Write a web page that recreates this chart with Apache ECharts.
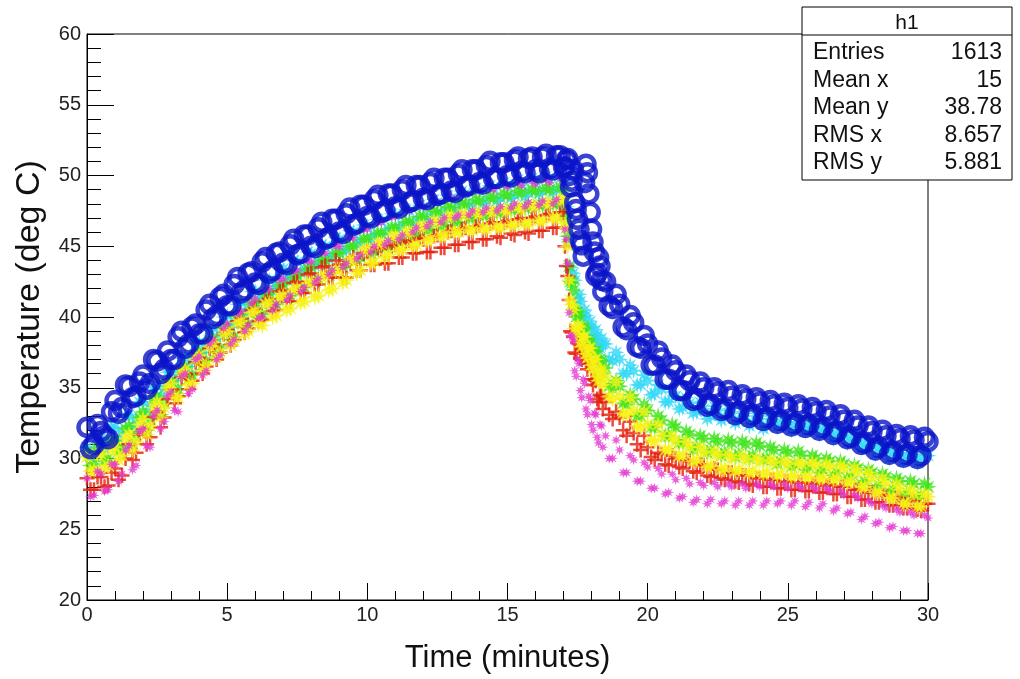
<!DOCTYPE html>
<html>
<head>
<meta charset="utf-8">
<title>h1</title>
<script src="https://cdn.jsdelivr.net/npm/echarts@6/dist/echarts.min.js"></script>
<style>
  html, body { margin: 0; padding: 0; background: #fff; }
  #chart { width: 1020px; height: 679px; }
</style>
</head>
<body>
<div id="chart"></div>
<script>
// time samples (minutes), first pass of readings
const times = [
  0, 0.25, 0.5, 0.75, 1, 1.25, 1.5, 1.75, 2, 2.25, 2.5, 2.75,
  3, 3.25, 3.5, 3.75, 4, 4.25, 4.5, 4.75, 5, 5.25, 5.5, 5.75,
  6, 6.25, 6.5, 6.75, 7, 7.25, 7.5, 7.75, 8, 8.25, 8.5, 8.75,
  9, 9.25, 9.5, 9.75, 10, 10.25, 10.5, 10.75, 11, 11.25, 11.5, 11.75,
  12, 12.25, 12.5, 12.75, 13, 13.25, 13.5, 13.75, 14, 14.25, 14.5, 14.75,
  15, 15.25, 15.5, 15.75, 16, 16.25, 16.5, 16.75, 17,
  17.1, 17.2, 17.3, 17.4, 17.5, 17.6, 17.7, 17.8, 17.9, 18, 18.1, 18.2, 18.3, 18.4,
  18.5, 18.75, 19, 19.25, 19.5, 19.75, 20, 20.25, 20.5, 20.75, 21, 21.25,
  21.5, 21.75, 22, 22.25, 22.5, 22.75, 23, 23.25, 23.5, 23.75, 24, 24.25,
  24.5, 24.75, 25, 25.25, 25.5, 25.75, 26, 26.25, 26.5, 26.75, 27, 27.25,
  27.5, 27.75, 28, 28.25, 28.5, 28.75, 29, 29.25, 29.5, 29.75, 30
];
// time samples (minutes), second pass of readings
const times2 = [
  0.125, 0.375, 0.625, 0.875, 1.125, 1.375, 1.625, 1.875, 2.125, 2.375, 2.625, 2.875,
  3.125, 3.375, 3.625, 3.875, 4.125, 4.375, 4.625, 4.875, 5.125, 5.375, 5.625, 5.875,
  6.125, 6.375, 6.625, 6.875, 7.125, 7.375, 7.625, 7.875, 8.125, 8.375, 8.625, 8.875,
  9.125, 9.375, 9.625, 9.875, 10.125, 10.375, 10.625, 10.875, 11.125, 11.375, 11.625, 11.875,
  12.125, 12.375, 12.625, 12.875, 13.125, 13.375, 13.625, 13.875, 14.125, 14.375, 14.625, 14.875,
  15.125, 15.375, 15.625, 15.875, 16.125, 16.375, 16.625, 16.875,
  17.05, 17.15, 17.25, 17.35, 17.45, 17.55, 17.65, 17.75, 17.85, 17.95, 18.05, 18.15, 18.25, 18.35,
  18.625, 18.875, 19.125, 19.375, 19.625, 19.875, 20.125, 20.375, 20.625, 20.875, 21.125, 21.375,
  21.625, 21.875, 22.125, 22.375, 22.625, 22.875, 23.125, 23.375, 23.625, 23.875, 24.125, 24.375,
  24.625, 24.875, 25.125, 25.375, 25.625, 25.875, 26.125, 26.375, 26.625, 26.875, 27.125, 27.375,
  27.625, 27.875, 28.125, 28.375, 28.625, 28.875, 29.125, 29.375, 29.625, 29.875
];

// temperatures (deg C) per sensor, first pass
const tempBlue = [
  32.2, 31.0, 31.9, 31.4, 34.1, 33.6, 35.1, 34.4, 35.9, 35.3, 36.9, 36.3,
  37.0, 38.6, 37.8, 39.3, 38.8, 40.5, 39.9, 41.4, 40.8, 42.3, 41.7, 43.1,
  42.4, 43.9, 43.1, 44.5, 43.8, 45.1, 44.4, 45.8, 45.0, 46.3, 45.5, 46.9,
  46.0, 47.3, 46.5, 47.9, 47.1, 48.3, 47.4, 48.7, 47.8, 49.0, 48.1, 49.3,
  48.4, 49.5, 48.6, 49.8, 48.9, 50.1, 49.2, 50.4, 49.5, 50.7, 49.8, 50.9,
  50.0, 51.1, 50.3, 51.2, 50.4, 51.3, 50.5, 51.4, 50.6,
  51.1, 50.0, 49.6, 48.1, 46.9, 45.4, 44.3, 50.8, 48.7, 46.2, 44.6, 43.1, 43.6, 41.8,
  42.5, 40.6, 40.9, 39.1, 39.6, 37.8, 38.1, 36.6, 37.1, 35.6, 36.2, 34.8,
  35.5, 34.2, 35.0, 33.8, 34.7, 33.5, 34.4, 33.3, 34.2, 33.1, 34.0, 32.9,
  33.8, 32.7, 33.6, 32.5, 33.5, 32.4, 33.3, 32.2, 33.0, 31.9, 32.7, 31.5,
  32.3, 31.1, 31.9, 30.8, 31.6, 30.5, 31.4, 30.3, 31.3, 30.2, 31.2
];
const tempCyan = [
  30.8, 30.4, 31.4, 31.2, 32.2, 31.9, 33.1, 32.8, 34.0, 33.8, 35.1, 34.9,
  36.2, 35.9, 37.2, 36.9, 38.2, 37.9, 39.2, 38.8, 40.1, 39.7, 41.0, 40.6,
  41.8, 41.4, 42.6, 42.2, 43.4, 42.9, 43.9, 43.4, 44.5, 43.9, 45.0, 44.4,
  45.5, 44.8, 46.0, 45.4, 46.4, 45.8, 46.8, 46.2, 47.2, 46.5, 47.5, 46.8,
  47.8, 47.1, 48.1, 47.5, 48.4, 47.7, 48.7, 48.0, 48.9, 48.2, 49.1, 48.4,
  49.3, 48.6, 49.4, 48.8, 49.6, 48.9, 49.7, 49.0, 49.6,
  47.8, 45.3, 42.7, 42.6, 41.2, 41.1, 40.0, 40.1, 39.2, 39.3, 38.5, 38.7, 37.8, 38.1,
  38.1, 36.9, 37.0, 36.0, 36.2, 35.2, 35.5, 34.6, 34.9, 34.0, 34.4, 33.6,
  33.9, 33.3, 33.5, 33.0, 33.4, 32.9, 33.2, 32.7, 33.0, 32.5, 32.8, 32.3,
  32.8, 32.5, 32.6, 32.4, 32.5, 32.2, 32.3, 32.0, 32.0, 31.7, 31.7, 31.4,
  31.3, 31.0, 30.9, 30.7, 30.6, 30.4, 30.4, 30.2, 30.3, 30.1, 30.2
];
const tempGreen = [
  30.5, 29.6, 30.6, 30.0, 31.3, 30.8, 32.3, 31.7, 33.3, 32.8, 34.4, 33.9,
  35.5, 34.9, 36.5, 35.9, 37.5, 36.9, 38.4, 37.8, 39.3, 38.6, 40.2, 39.5,
  41.0, 40.2, 41.7, 40.9, 42.3, 41.5, 42.9, 42.1, 43.5, 42.7, 44.0, 43.2,
  44.5, 43.7, 45.0, 44.2, 45.5, 44.6, 45.9, 45.0, 46.3, 45.4, 46.7, 45.8,
  47.1, 46.2, 47.4, 46.5, 47.7, 46.7, 48.0, 47.0, 48.2, 47.2, 48.4, 47.4,
  48.6, 47.6, 48.8, 47.8, 48.9, 47.9, 49.0, 48.0, 48.9,
  46.8, 43.6, 42.4, 40.6, 40.4, 39.0, 39.3, 38.1, 38.4, 37.1, 37.6, 36.6, 37.0, 36.0,
  36.4, 34.9, 35.1, 33.8, 34.2, 33.0, 33.4, 32.2, 32.7, 31.6, 32.2, 31.1,
  31.7, 30.8, 31.4, 30.6, 31.2, 30.4, 31.1, 30.3, 31.0, 30.2, 30.9, 30.0,
  30.6, 29.8, 30.4, 29.6, 30.2, 29.4, 30.0, 29.2, 29.8, 29.0, 29.6, 28.7,
  29.3, 28.4, 29.0, 28.1, 28.7, 27.8, 28.4, 27.6, 28.2, 27.4, 28.0
];
const tempYellow = [
  30.1, 29.2, 30.3, 29.5, 30.8, 30.2, 31.7, 31.2, 32.8, 32.3, 34.0, 33.6,
  35.3, 34.3, 36.3, 35.3, 37.3, 36.6, 38.2, 37.5, 39.0, 38.3, 39.7, 39.0,
  40.4, 39.4, 41.0, 40.1, 41.5, 40.6, 42.0, 41.1, 42.4, 41.5, 42.9, 42.0,
  43.3, 42.6, 44.0, 43.3, 44.8, 43.9, 45.2, 44.4, 45.7, 44.8, 46.0, 45.1,
  46.4, 45.5, 46.7, 45.8, 47.1, 46.0, 47.2, 46.1, 47.3, 46.2, 47.4, 46.3,
  47.5, 46.5, 47.6, 46.6, 47.8, 46.8, 48.0, 47.0, 48.3,
  46.3, 42.6, 40.9, 39.2, 39.4, 38.2, 38.6, 37.4, 37.8, 36.6, 37.0, 35.8, 36.3, 35.2,
  35.7, 34.2, 34.4, 33.1, 33.4, 32.2, 32.4, 31.2, 31.6, 30.6, 31.2, 30.2,
  30.8, 29.9, 30.4, 29.5, 30.2, 29.3, 30.0, 29.2, 29.9, 29.1, 29.8, 29.0,
  29.7, 28.9, 29.6, 28.8, 29.6, 28.7, 29.5, 28.6, 29.4, 28.6, 29.3, 28.4,
  29.0, 28.0, 28.6, 27.6, 28.2, 27.2, 27.8, 26.8, 27.5, 26.6, 27.3
];
const tempRed = [
  28.6, 27.8, 28.7, 28.1, 29.3, 28.8, 31.0, 30.4, 32.1, 31.5, 33.3, 32.9,
  34.9, 34.4, 36.0, 35.5, 37.1, 36.5, 38.1, 37.5, 39.1, 38.4, 39.9, 39.2,
  40.6, 39.8, 41.3, 40.5, 41.9, 41.1, 42.5, 41.7, 43.1, 42.3, 43.6, 42.8,
  43.7, 42.8, 44.2, 43.3, 44.6, 43.7, 44.8, 43.8, 45.1, 44.2, 45.4, 44.5,
  45.5, 44.6, 45.8, 44.9, 46.1, 45.1, 46.3, 45.3, 46.5, 45.5, 46.7, 45.6,
  46.8, 45.8, 47.0, 45.9, 47.1, 46.1, 47.3, 46.3, 47.4,
  43.6, 41.2, 38.9, 37.5, 38.2, 37.1, 37.9, 36.7, 37.0, 35.6, 35.6, 34.2, 34.5, 33.5,
  34.0, 32.8, 32.9, 31.6, 31.8, 30.6, 30.8, 29.9, 30.3, 29.5, 30.0, 29.3,
  29.8, 29.0, 29.5, 28.7, 29.2, 28.5, 29.0, 28.3, 28.8, 28.1, 28.6, 28.0,
  28.5, 27.9, 28.4, 27.8, 28.3, 27.7, 28.3, 27.6, 28.2, 27.5, 28.0, 27.3,
  27.8, 27.1, 27.6, 26.9, 27.4, 26.7, 27.2, 26.5, 27.0, 26.3, 26.8
];
const tempMagenta = [
  28.6, 27.4, 28.9, 27.8, 29.6, 28.9, 30.9, 29.5, 32.1, 30.8, 33.4, 32.6,
  34.7, 33.3, 36.0, 34.9, 37.2, 36.2, 38.4, 37.3, 39.5, 38.4, 40.4, 39.4,
  41.3, 40.0, 42.0, 40.9, 42.7, 41.5, 43.3, 42.1, 43.9, 42.7, 44.5, 43.3,
  45.0, 43.8, 45.6, 44.4, 46.2, 45.0, 46.7, 45.4, 47.1, 45.8, 47.5, 46.3,
  47.8, 46.7, 48.1, 47.0, 48.4, 47.2, 48.7, 47.5, 48.9, 47.7, 49.0, 47.8,
  49.2, 48.0, 49.3, 48.1, 49.4, 48.2, 49.5, 48.3, 49.4,
  45.5, 40.3, 38.6, 36.2, 37.0, 34.8, 35.6, 33.5, 34.4, 32.4, 33.2, 31.5, 32.4, 30.8,
  31.6, 30.0, 30.6, 29.0, 29.9, 28.4, 29.4, 27.9, 28.9, 27.6, 28.5, 27.3,
  28.2, 27.1, 28.1, 27.1, 28.0, 27.0, 28.0, 27.0, 27.9, 27.0, 28.0, 27.0,
  28.0, 27.0, 27.9, 27.0, 27.9, 26.9, 27.8, 26.8, 27.7, 26.5, 27.4, 26.2,
  27.2, 25.9, 26.8, 25.5, 26.5, 25.2, 26.2, 24.9, 26.0, 24.7, 25.8
];

// temperatures (deg C) per sensor, second pass
const tempBlue2 = [
  30.7, 32.4, 31.6, 33.3, 33.2, 35.2, 34.3, 35.4, 34.9, 37.0, 36.0, 37.6,
  37.0, 39.0, 38.1, 39.5, 38.8, 40.9, 40.1, 41.6, 40.8, 42.8, 41.9, 43.2,
  42.3, 44.2, 43.3, 44.6, 43.7, 45.5, 44.5, 45.8, 44.9, 46.7, 45.6, 46.9,
  45.9, 47.7, 46.6, 47.9, 47.0, 48.6, 47.5, 48.7, 47.7, 49.3, 48.2, 49.3,
  48.3, 49.8, 48.7, 49.8, 48.8, 50.4, 49.3, 50.4, 49.4, 51.0, 49.8, 50.9,
  49.9, 51.3, 50.2, 51.3, 50.2, 51.5, 50.4, 51.4,
  50.6, 51.2, 49.2, 50.4, 47.6, 46.2, 45.1, 49.5, 50.2, 47.4, 45.3, 42.9, 44.2, 42.6,
  40.8, 41.6, 39.3, 40.1, 37.9, 38.7, 36.6, 37.6, 35.6, 36.6, 34.8, 35.9,
  34.1, 35.4, 33.7, 35.0, 33.4, 34.8, 33.1, 34.5, 32.9, 34.3, 32.7, 34.1,
  32.5, 33.9, 32.3, 33.8, 32.2, 33.6, 32.0, 33.4, 31.7, 33.1, 31.4, 32.7,
  31.0, 32.3, 30.6, 32.0, 30.3, 31.7, 30.1, 31.6, 30.0, 31.5
];
const tempCyan2 = [
  30.1, 31.5, 30.7, 32.2, 31.4, 33.0, 32.3, 34.0, 33.3, 35.0, 34.4, 36.1,
  35.5, 37.1, 36.5, 38.1, 37.5, 39.1, 38.5, 40.0, 39.3, 40.9, 40.2, 41.8,
  41.0, 42.6, 41.8, 43.4, 42.6, 44.0, 43.1, 44.6, 43.6, 45.1, 44.1, 45.6,
  44.6, 46.1, 45.1, 46.5, 45.5, 46.9, 45.9, 47.3, 46.3, 47.6, 46.6, 47.9,
  46.9, 48.3, 47.2, 48.6, 47.5, 48.9, 47.8, 49.1, 48.0, 49.3, 48.2, 49.5,
  48.4, 49.7, 48.5, 49.8, 48.7, 49.9, 48.8, 50.0,
  48.1, 46.8, 43.5, 43.1, 41.3, 41.6, 40.0, 40.5, 39.1, 39.7, 38.4, 39.1, 37.7, 38.5,
  37.0, 37.5, 36.0, 36.6, 35.2, 35.9, 34.5, 35.2, 34.0, 34.7, 33.5, 34.3,
  33.2, 34.0, 32.8, 33.7, 32.7, 33.5, 32.5, 33.3, 32.3, 33.2, 32.1, 33.0,
  32.2, 33.0, 32.0, 32.8, 31.9, 32.6, 31.7, 32.4, 31.4, 32.1, 31.1, 31.8,
  30.7, 31.4, 30.3, 31.0, 30.0, 30.7, 29.8, 30.6, 29.7, 30.5
];
const tempGreen2 = [
  29.5, 30.7, 29.8, 31.2, 30.5, 32.1, 31.0, 32.9, 32.0, 34.2, 33.1, 35.3,
  34.6, 36.3, 35.6, 37.3, 36.6, 38.3, 37.5, 39.2, 38.4, 40.0, 39.3, 40.9,
  40.0, 41.6, 40.7, 42.2, 41.3, 42.8, 41.9, 43.4, 42.5, 44.0, 43.0, 44.5,
  43.5, 45.0, 44.0, 45.5, 44.5, 45.9, 44.9, 46.3, 45.3, 46.7, 45.7, 47.1,
  46.1, 47.5, 46.4, 47.8, 46.7, 48.0, 47.0, 48.3, 47.2, 48.5, 47.4, 48.7,
  47.6, 48.9, 47.7, 49.0, 47.9, 49.1, 48.0, 49.2,
  47.3, 45.7, 42.5, 41.9, 40.0, 40.1, 38.6, 39.2, 37.7, 38.2, 36.9, 37.6, 36.3, 36.9,
  35.1, 35.5, 33.9, 34.5, 33.0, 33.8, 32.2, 33.0, 31.6, 32.4, 31.1, 31.9,
  30.6, 31.6, 30.4, 31.4, 30.2, 31.3, 30.1, 31.2, 30.0, 31.1, 29.9, 30.8,
  29.6, 30.6, 29.4, 30.5, 29.2, 30.2, 29.0, 30.0, 28.8, 29.8, 28.6, 29.5,
  28.2, 29.2, 27.9, 28.9, 27.6, 28.6, 27.3, 28.4, 27.2, 28.2
];
const tempYellow2 = [
  29.1, 30.3, 29.3, 30.6, 29.9, 31.4, 30.6, 32.4, 31.7, 33.6, 32.9, 35.0,
  34.4, 36.0, 35.2, 37.0, 36.2, 37.9, 37.1, 38.8, 38.0, 39.6, 38.8, 40.3,
  39.5, 40.9, 40.0, 41.4, 40.5, 41.9, 41.0, 42.4, 41.4, 42.8, 41.9, 43.3,
  42.4, 44.0, 43.1, 44.7, 43.8, 45.2, 44.2, 45.7, 44.7, 46.0, 45.0, 46.4,
  45.4, 46.8, 45.7, 47.1, 46.0, 47.3, 46.2, 47.4, 46.3, 47.5, 46.4, 47.6,
  46.5, 47.8, 46.6, 47.9, 46.8, 48.1, 47.0, 48.3,
  46.6, 45.0, 41.2, 40.5, 38.8, 39.3, 37.9, 38.6, 37.1, 37.8, 36.3, 37.0, 35.5, 36.2,
  34.4, 35.4, 33.2, 34.3, 32.3, 33.3, 31.3, 32.4, 30.6, 31.6, 30.2, 31.2,
  29.8, 30.8, 29.4, 30.5, 29.2, 30.3, 29.1, 30.2, 29.0, 30.0, 28.9, 29.9,
  28.8, 29.8, 28.7, 29.7, 28.7, 29.7, 28.6, 29.6, 28.5, 29.5, 28.3, 29.3,
  28.0, 29.0, 27.6, 28.6, 27.2, 28.2, 26.8, 27.8, 26.6, 27.5
];
const tempRed2 = [
  27.8, 28.7, 28.0, 29.0, 28.5, 30.0, 29.9, 31.7, 31.0, 32.9, 32.2, 34.2,
  33.9, 35.7, 34.9, 36.8, 36.0, 37.8, 37.0, 38.8, 38.0, 39.7, 38.9, 40.5,
  39.7, 41.1, 40.4, 41.8, 41.1, 42.4, 41.7, 43.0, 42.3, 43.5, 42.8, 44.0,
  42.8, 44.0, 43.3, 44.5, 43.7, 44.9, 43.8, 45.0, 44.2, 45.3, 44.5, 45.6,
  44.6, 45.7, 44.9, 46.0, 45.1, 46.2, 45.3, 46.4, 45.5, 46.6, 45.7, 46.7,
  45.9, 46.9, 46.0, 47.0, 46.1, 47.2, 46.3, 47.4,
  45.0, 42.9, 39.0, 38.6, 37.4, 38.1, 37.0, 37.7, 36.3, 36.7, 35.2, 35.5, 34.0, 34.4,
  33.1, 33.3, 32.0, 32.6, 31.0, 31.6, 30.1, 30.4, 29.6, 30.2, 29.4, 29.9,
  29.1, 29.6, 28.8, 29.3, 28.6, 29.0, 28.4, 28.8, 28.2, 28.6, 28.0, 28.5,
  27.9, 28.4, 27.8, 28.3, 27.7, 28.2, 27.6, 28.1, 27.5, 28.0, 27.3, 27.8,
  27.1, 27.6, 26.9, 27.4, 26.7, 27.2, 26.5, 27.0, 26.4, 26.8
];
const tempMagenta2 = [
  27.3, 29.1, 27.7, 29.6, 28.4, 30.6, 29.2, 31.9, 30.9, 33.0, 32.1, 34.4,
  33.4, 35.8, 34.6, 37.0, 35.9, 38.1, 37.0, 39.2, 38.1, 40.2, 39.0, 41.0,
  39.9, 41.9, 40.5, 42.6, 41.2, 43.2, 41.8, 43.9, 42.4, 44.6, 43.0, 45.0,
  43.5, 45.6, 44.1, 46.2, 44.6, 46.7, 45.1, 47.1, 45.5, 47.6, 46.0, 48.0,
  46.4, 48.4, 46.7, 48.7, 47.0, 48.9, 47.2, 49.2, 47.4, 49.3, 47.5, 49.4,
  47.7, 49.5, 47.8, 49.6, 47.9, 49.7, 48.0, 49.8,
  46.2, 43.8, 38.7, 38.3, 35.8, 36.7, 34.3, 35.3, 33.1, 34.1, 32.0, 33.1, 31.1, 32.3,
  30.0, 31.3, 29.0, 30.2, 28.4, 29.7, 27.9, 29.3, 27.5, 28.9, 27.2, 28.6,
  26.9, 28.3, 26.8, 28.3, 26.8, 28.2, 26.7, 28.2, 26.7, 28.2, 26.7, 28.2,
  26.8, 28.2, 26.7, 28.1, 26.6, 28.0, 26.5, 27.9, 26.3, 27.7, 26.1, 27.4,
  25.7, 27.0, 25.4, 26.7, 25.1, 26.4, 24.9, 26.2, 24.7, 26.0
];

// stats box
const statTitle = 'h1';
const statLabels = ['Entries', 'Mean x', 'Mean y', 'RMS x', 'RMS y'];
const statValues = ['1613', '15', '38.78', '8.657', '5.881'];

const xTicks = { min: 0, max: 30, interval: 5 };
const yTicks = { min: 20, max: 60, interval: 5 };

// marker shapes (ROOT-like + and *)
const plusPath = 'path://M5,0H7V5H12V7H7V12H5V7H0V5H5Z';
const starPath = 'path://M5,0L5.77,3.15L8.54,1.46L6.85,4.23L10,5L6.85,5.77L8.54,8.54L5.77,6.85L5,10L4.23,6.85L1.46,8.54L3.15,5.77L0,5L3.15,4.23L1.46,1.46L4.23,3.15Z';

function pairs(a, b) {
    const first = times.map((t, i) => [t, a[i]]);
    const second = times2.map((t, i) => [t, b[i]]);
    return first.concat(second);
}

const chart = echarts.init(document.getElementById('chart'));

const font = '"Liberation Sans", Arial, sans-serif';

// draw order: cyan, green, red, yellow, magenta, then blue circles on top
const series = [
    { name: 'cyan', data: pairs(tempCyan, tempCyan2), symbol: starPath, symbolSize: 17, itemStyle: { color: '#30d8f6' } },
    { name: 'green', data: pairs(tempGreen, tempGreen2), symbol: starPath, symbolSize: 18, itemStyle: { color: '#3ee41a' } },
    { name: 'red', data: pairs(tempRed, tempRed2), symbol: plusPath, symbolSize: 15, itemStyle: { color: '#e41e0c' } },
    { name: 'yellow', data: pairs(tempYellow, tempYellow2), symbol: starPath, symbolSize: 18, itemStyle: { color: '#f6f214' } },
    { name: 'magenta', data: pairs(tempMagenta, tempMagenta2), symbol: starPath, symbolSize: 11, itemStyle: { color: '#e43ad2' } },
    {
        name: 'blue', data: pairs(tempBlue, tempBlue2), symbol: 'circle', symbolSize: 17,
        itemStyle: { color: 'rgba(0,0,0,0)', borderColor: '#0a14c8', borderWidth: 4.5 }
    }
].map(s => Object.assign({ type: 'scatter', silent: true, animation: false }, s));

const statGraphics = [
    {
        type: 'rect', z: 100,
        shape: { x: 802, y: 7, width: 210, height: 173 },
        style: { fill: '#fff', stroke: '#000', lineWidth: 1 }
    },
    {
        type: 'line', z: 101,
        shape: { x1: 802, y1: 35, x2: 1012, y2: 35 },
        style: { stroke: '#000', lineWidth: 1 }
    },
    {
        type: 'text', z: 101, x: 907, y: 23,
        style: { text: statTitle, font: '21px ' + font, fill: '#111', align: 'center', verticalAlign: 'middle' }
    }
];
statLabels.forEach((label, i) => {
    const y = 53 + i * 27.5;
    statGraphics.push({
        type: 'text', z: 101, x: 813, y: y,
        style: { text: label, font: '23px ' + font, fill: '#111', align: 'left', verticalAlign: 'middle' }
    });
    statGraphics.push({
        type: 'text', z: 101, x: 1002, y: y,
        style: { text: statValues[i], font: '23px ' + font, fill: '#111', align: 'right', verticalAlign: 'middle' }
    });
});

const option = {
    backgroundColor: '#fff',
    animation: false,
    grid: {
        left: 87, top: 34, width: 841, height: 568,
        show: true, borderColor: '#000', borderWidth: 1, backgroundColor: 'transparent'
    },
    xAxis: {
        type: 'value',
        min: xTicks.min, max: xTicks.max, interval: xTicks.interval,
        name: 'Time (minutes)',
        nameLocation: 'middle',
        nameGap: 43,
        nameTextStyle: { fontFamily: font, fontSize: 31, color: '#111' },
        axisLine: { lineStyle: { color: '#000', width: 1 } },
        axisTick: { inside: true, length: 17, lineStyle: { color: '#000' } },
        minorTick: { show: true, splitNumber: 5, length: 9, lineStyle: { color: '#000' } },
        axisLabel: { fontFamily: font, fontSize: 20, color: '#222', margin: 5 },
        splitLine: { show: false }
    },
    yAxis: {
        type: 'value',
        min: yTicks.min, max: yTicks.max, interval: yTicks.interval,
        name: 'Temperature (deg C)',
        nameLocation: 'middle',
        nameGap: 40,
        nameTextStyle: { fontFamily: font, fontSize: 34, color: '#111' },
        axisLine: { lineStyle: { color: '#000', width: 1 } },
        axisTick: { inside: true, length: 27, lineStyle: { color: '#000' } },
        minorTick: { show: true, splitNumber: 5, length: 14, lineStyle: { color: '#000' } },
        axisLabel: { fontFamily: font, fontSize: 20, color: '#222', margin: 6 },
        splitLine: { show: false }
    },
    graphic: statGraphics,
    series: series
};

chart.setOption(option);
</script>
</body>
</html>
